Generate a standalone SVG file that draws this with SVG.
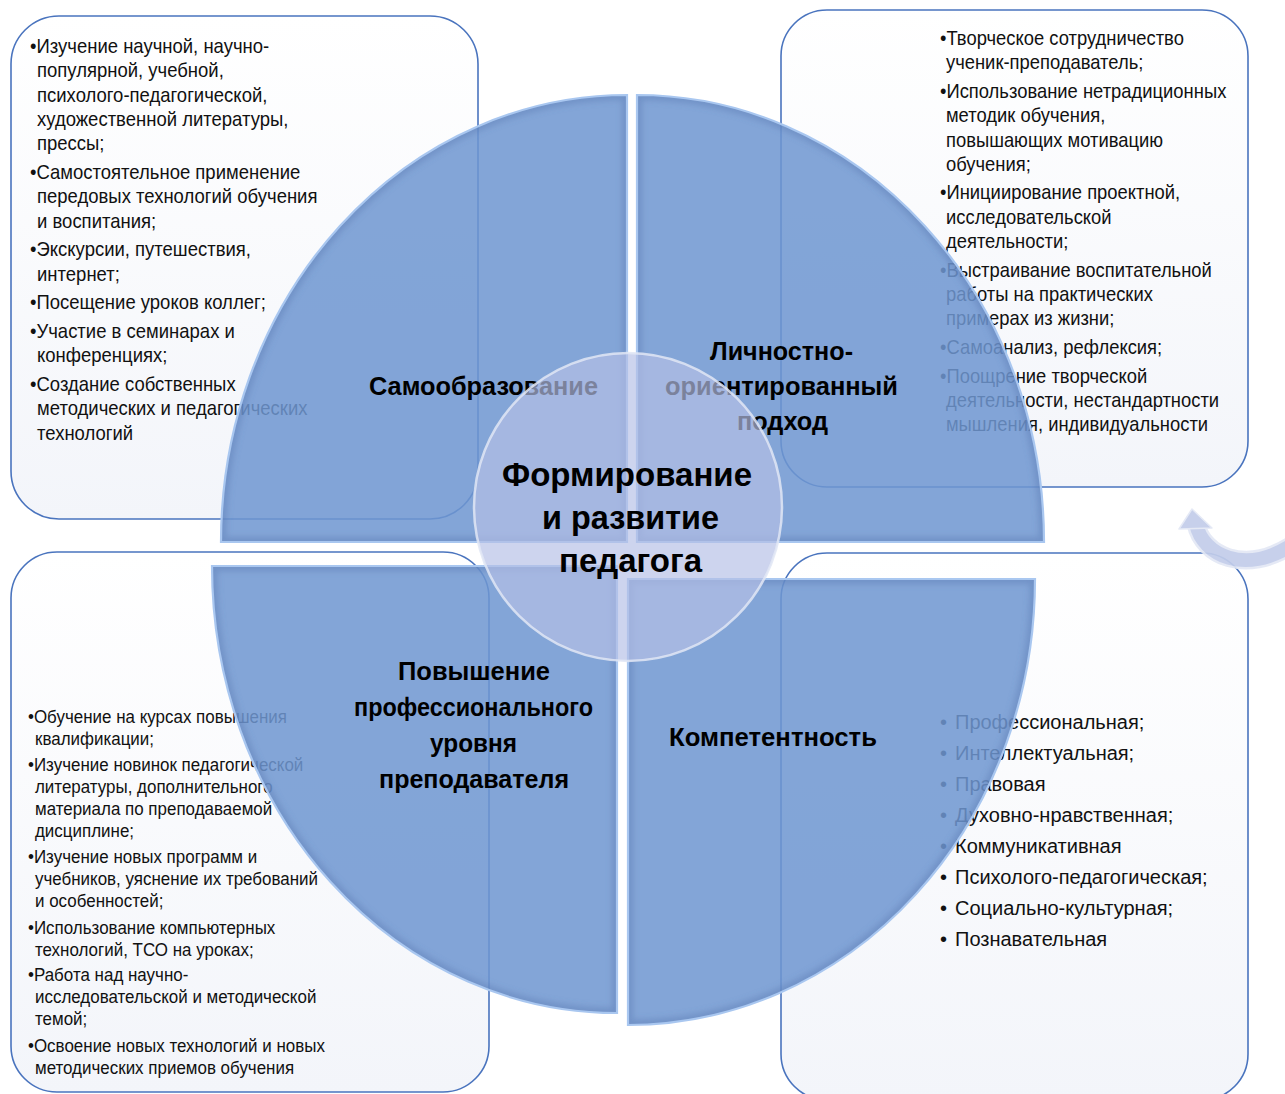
<svg xmlns="http://www.w3.org/2000/svg" xmlns:xlink="http://www.w3.org/1999/xlink" width="1285" height="1094" viewBox="0 0 1285 1094">
<style>
.box{fill:url(#boxFill);stroke:#4A74BE;stroke-width:1.6}
.bt{font-family:"Liberation Sans",Arial,sans-serif;font-size:20px;fill:#111}
.bs{font-family:"Liberation Sans",Arial,sans-serif;font-size:17.5px;fill:#111}
.sec{fill:#6F96D0;fill-opacity:0.86}
.secIn{fill:none;stroke:#4F6FA8;stroke-width:10;stroke-opacity:0.35}
.secOut{fill:none;stroke:#A9C7F0;stroke-width:2.2}
.lbl{font-family:"Liberation Sans",Arial,sans-serif;font-size:25px;font-weight:bold;fill:#000;text-anchor:middle}
.ctr{font-family:"Liberation Sans",Arial,sans-serif;font-size:33px;font-weight:bold;fill:#000;text-anchor:middle}
</style>
<defs>
<linearGradient id="boxFill" x1="0" y1="0" x2="0" y2="1">
<stop offset="0" stop-color="#FFFFFF"/>
<stop offset="1" stop-color="#F3F5FA"/>
</linearGradient>
<filter id="blur" x="-10%" y="-10%" width="120%" height="120%"><feGaussianBlur stdDeviation="3"/></filter>
<path id="sTL" d="M627,542 L221,542 A406,447 0 0 1 627,95 Z"/>
<path id="sTR" d="M637,542 L637,95 A407,447 0 0 1 1044,542 Z"/>
<path id="sBL" d="M617,566 L617,1013 A405,447 0 0 1 212,566 Z"/>
<path id="sBR" d="M628,579 L1035,579 A407,446 0 0 1 628,1025 Z"/>
<clipPath id="cTL"><use xlink:href="#sTL"/></clipPath>
<clipPath id="cTR"><use xlink:href="#sTR"/></clipPath>
<clipPath id="cBL"><use xlink:href="#sBL"/></clipPath>
<clipPath id="cBR"><use xlink:href="#sBR"/></clipPath>
</defs>
<rect x="0" y="0" width="1285" height="1094" fill="#FFFFFF"/>

<g id="box-top-left">
<rect x="11" y="16" width="467" height="503" rx="48" class="box"/>
<g class="bt" transform="translate(30,0) scale(0.925,1)">
<text x="0" y="53">•Изучение научной, научно-</text>
<text x="7.6" y="77.3">популярной, учебной,</text>
<text x="7.6" y="101.6">психолого-педагогической,</text>
<text x="7.6" y="125.9">художественной литературы,</text>
<text x="7.6" y="150.2">прессы;</text>
<text x="0" y="179">•Самостоятельное применение</text>
<text x="7.6" y="203.3">передовых технологий обучения</text>
<text x="7.6" y="227.6">и воспитания;</text>
<text x="0" y="256.3">•Экскурсии, путешествия,</text>
<text x="7.6" y="280.6">интернет;</text>
<text x="0" y="309.3">•Посещение уроков коллег;</text>
<text x="0" y="338">•Участие в семинарах и</text>
<text x="7.6" y="362.3">конференциях;</text>
<text x="0" y="391">•Создание собственных</text>
<text x="7.6" y="415.3">методических и педагогических</text>
<text x="7.6" y="439.6">технологий</text>
</g>
</g>

<g id="box-top-right">
<rect x="781" y="10" width="467" height="477" rx="46" class="box"/>
<g class="bt" transform="translate(940,0) scale(0.92,1)">
<text x="0" y="45">•Творческое сотрудничество</text>
<text x="6.5" y="69.3">ученик-преподаватель;</text>
<text x="0" y="98">•Использование нетрадиционных</text>
<text x="6.5" y="122.3">методик обучения,</text>
<text x="6.5" y="146.6">повышающих мотивацию</text>
<text x="6.5" y="170.9">обучения;</text>
<text x="0" y="199.5">•Инициирование проектной,</text>
<text x="6.5" y="223.8">исследовательской</text>
<text x="6.5" y="248.1">деятельности;</text>
<text x="0" y="276.8">•Выстраивание воспитательной</text>
<text x="6.5" y="301.1">работы на практических</text>
<text x="6.5" y="325.4">примерах из жизни;</text>
<text x="0" y="354">•Самоанализ, рефлексия;</text>
<text x="0" y="382.7">•Поощрение творческой</text>
<text x="6.5" y="407">деятельности, нестандартности</text>
<text x="6.5" y="431.3">мышления, индивидуальности</text>
</g>
</g>

<g id="box-bottom-left">
<rect x="11" y="552" width="478" height="540" rx="46" class="box"/>
<g class="bs" transform="translate(28,0) scale(0.97,1)">
<text x="0" y="723">•Обучение на курсах повышения</text>
<text x="7.2" y="745">квалификации;</text>
<text x="0" y="771">•Изучение новинок педагогической</text>
<text x="7.2" y="793">литературы, дополнительного</text>
<text x="7.2" y="815">материала по преподаваемой</text>
<text x="7.2" y="837">дисциплине;</text>
<text x="0" y="863">•Изучение новых программ и</text>
<text x="7.2" y="885">учебников, уяснение их требований</text>
<text x="7.2" y="907">и особенностей;</text>
<text x="0" y="934">•Использование компьютерных</text>
<text x="7.2" y="956">технологий, ТСО на уроках;</text>
<text x="0" y="981">•Работа над научно-</text>
<text x="7.2" y="1003">исследовательской и методической</text>
<text x="7.2" y="1025">темой;</text>
<text x="0" y="1052">•Освоение новых технологий и новых</text>
<text x="7.2" y="1074">методических приемов обучения</text>
</g>
</g>

<g id="box-bottom-right">
<rect x="781" y="553" width="467" height="547" rx="46" class="box"/>
<g class="bt">
<text y="729"><tspan x="940">•</tspan><tspan x="955">Профессиональная;</tspan></text>
<text y="760"><tspan x="940">•</tspan><tspan x="955">Интеллектуальная;</tspan></text>
<text y="791"><tspan x="940">•</tspan><tspan x="955">Правовая</tspan></text>
<text y="822"><tspan x="940">•</tspan><tspan x="955">Духовно-нравственная;</tspan></text>
<text y="853"><tspan x="940">•</tspan><tspan x="955">Коммуникативная</tspan></text>
<text y="884"><tspan x="940">•</tspan><tspan x="955">Психолого-педагогическая;</tspan></text>
<text y="915"><tspan x="940">•</tspan><tspan x="955">Социально-культурная;</tspan></text>
<text y="946"><tspan x="940">•</tspan><tspan x="955">Познавательная</tspan></text>
</g>
</g>

<g id="sector-self-education">
<use xlink:href="#sTL" class="sec"/>
<use xlink:href="#sTL" class="secIn" clip-path="url(#cTL)" filter="url(#blur)"/>
<use xlink:href="#sTL" class="secOut"/>
<text class="lbl" x="483.5" y="395" textLength="229" lengthAdjust="spacingAndGlyphs">Самообразование</text>
</g>

<g id="sector-personal-approach">
<use xlink:href="#sTR" class="sec"/>
<use xlink:href="#sTR" class="secIn" clip-path="url(#cTR)" filter="url(#blur)"/>
<use xlink:href="#sTR" class="secOut"/>
<text class="lbl" x="781.5" y="360" textLength="143" lengthAdjust="spacingAndGlyphs">Личностно-</text>
<text class="lbl" x="781.5" y="395" textLength="233" lengthAdjust="spacingAndGlyphs">ориентированный</text>
<text class="lbl" x="782.5" y="430" textLength="91" lengthAdjust="spacingAndGlyphs">подход</text>
</g>

<g id="sector-professional-level">
<use xlink:href="#sBL" class="sec"/>
<use xlink:href="#sBL" class="secIn" clip-path="url(#cBL)" filter="url(#blur)"/>
<use xlink:href="#sBL" class="secOut"/>
<text class="lbl" x="474" y="680" textLength="152" lengthAdjust="spacingAndGlyphs">Повышение</text>
<text class="lbl" x="473.5" y="716" textLength="239" lengthAdjust="spacingAndGlyphs">профессионального</text>
<text class="lbl" x="473.5" y="752" textLength="87" lengthAdjust="spacingAndGlyphs">уровня</text>
<text class="lbl" x="474" y="788" textLength="190" lengthAdjust="spacingAndGlyphs">преподавателя</text>
</g>

<g id="sector-competence">
<use xlink:href="#sBR" class="sec"/>
<use xlink:href="#sBR" class="secIn" clip-path="url(#cBR)" filter="url(#blur)"/>
<use xlink:href="#sBR" class="secOut"/>
<text class="lbl" x="773" y="746" textLength="208" lengthAdjust="spacingAndGlyphs">Компетентность</text>
</g>

<g id="center">
<circle cx="628" cy="507" r="154" fill="#B5C0E6" fill-opacity="0.68" stroke="#E0E6F5" stroke-width="2.5" stroke-opacity="0.85"/>
<text class="ctr" x="627" y="486" textLength="250" lengthAdjust="spacingAndGlyphs">Формирование</text>
<text class="ctr" x="630.5" y="529" textLength="177" lengthAdjust="spacingAndGlyphs">и развитие</text>
<text class="ctr" x="630.5" y="572" textLength="143" lengthAdjust="spacingAndGlyphs">педагога</text>
</g>

<g id="connectors" opacity="0.92">
<path d="M1196,524 C1203,556 1245,575 1292,545" fill="none" stroke="#E3E8F5" stroke-width="19"/>
<path d="M1196,524 C1203,556 1245,575 1292,545" fill="none" stroke="#C3CDEA" stroke-width="14"/>
<polygon points="1192,509 1179,529 1212,528" fill="#C3CDEA" stroke="#E3E8F5" stroke-width="1.5" stroke-linejoin="round"/>
</g>
</svg>
